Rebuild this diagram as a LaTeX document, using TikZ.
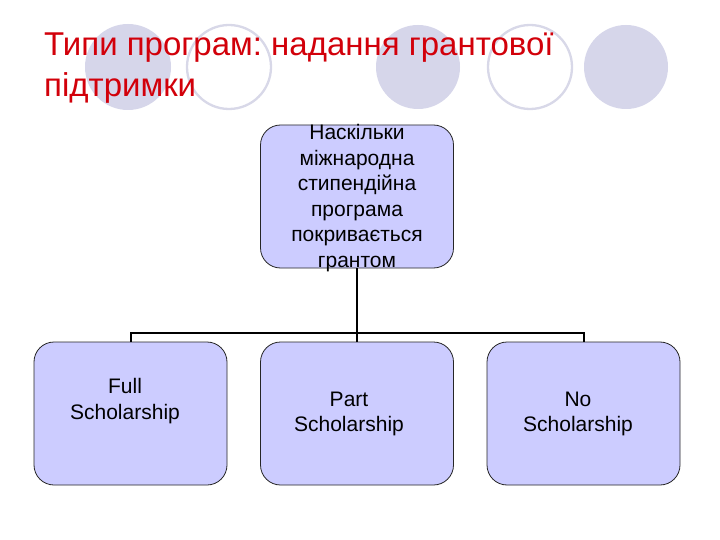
\documentclass[tikz,border=0pt]{standalone}
\usepackage{fontspec}
\setmainfont{Liberation Sans}
\frenchspacing
\definecolor{titlered}{RGB}{210,0,10}
\definecolor{boxfill}{RGB}{204,204,255}
\definecolor{circfill}{RGB}{214,214,234}
\definecolor{circline}{RGB}{216,216,232}
\begin{document}
\begin{tikzpicture}[x=1pt,y=-1pt,
  box/.style={draw=black!85,line width=0.8pt,fill=boxfill,rounded corners=20pt,minimum width=193pt,minimum height=143pt,inner sep=0pt},
  txt/.style={align=center,inner sep=0pt,font=\fontsize{21}{25.6}\selectfont},
  conn/.style={line width=2pt,black},
  dotf/.style={fill=circfill},
  doto/.style={draw=circline,line width=2.3pt}]
\useasboundingbox (0,0) rectangle (720,540);
\fill[white] (0,0) rectangle (720,540);
% decorative circles
\fill[dotf] (128,67) circle (43);
\draw[doto] (229,67) circle (42);
\fill[dotf] (418,67) circle (42);
\draw[doto] (530,67) circle (42);
\fill[dotf] (626,67) circle (42);
% title
\node[anchor=base west,inner sep=0pt,text=titlered,font=\fontsize{33}{41}\selectfont] (t1) at (44,56) {Типи програм: надання грантової};
\node[anchor=base west,inner sep=0pt,text=titlered,font=\fontsize{33}{41}\selectfont] (t2) at (44,97) {підтримки};
% boxes
\node[box] (top) at (357,196.5) {};
\node[txt] (toptxt) at (357,198) {Наскільки\\міжнародна\\стипендійна\\програма\\покривається\\грантом};
\node[box] (full) at (130.5,413.5) {};
\node[txt] (fulltxt) at (125,401) {Full\\Scholarship};
\node[box] (part) at (357,413.5) {};
\node[txt] (parttxt) at (349,414) {Part\\Scholarship};
\node[box] (no) at (583.5,413.5) {};
\node[txt] (notxt) at (578,414) {No\\Scholarship};
% connectors
\coordinate (bar) at (357,333);
\draw[conn] (top.south) -- (part.north);
\draw[conn] (full.north) -- (full.north |- bar) -- (no.north |- bar) -- (no.north);
\end{tikzpicture}
\end{document}
